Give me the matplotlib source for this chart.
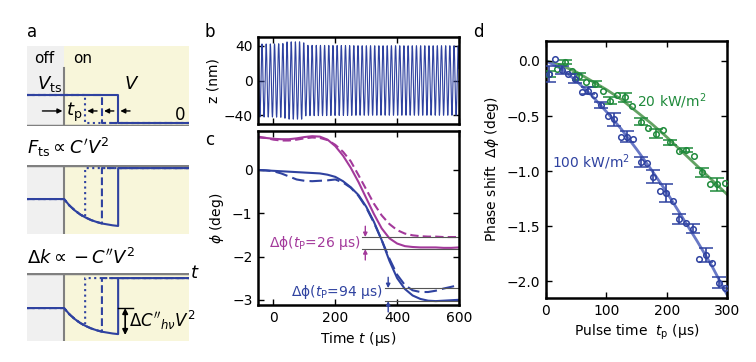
import matplotlib
matplotlib.use('Agg')
import numpy as np
import matplotlib.pyplot as plt

plt.rcParams['font.family'] = ['DejaVu Sans']
plt.rcParams['mathtext.fontset'] = 'dejavusans'
plt.rcParams['font.size'] = 10

BLUE = '#2f42a0'
MAGENTA = '#a3399b'
GREEN = '#1f8a3b'
BLUE_FIT = '#6878c6'
GREEN_FIT = '#63a263'
YELLOW = '#f8f6da'
LIGHTGRAY = '#f0f0f0'
GRAY = '#808080'

# panel a: schematic, times in units of the longest pulse
pulse_ends = [0.39, 0.70, 1.0]
pulse_styles = [':', '--', '-']
drop_t = [0.0, 0.1, 0.2, 0.3, 0.39, 0.5, 0.6, 0.7, 0.8, 0.9, 1.0]
drop_val = [0.0, 0.21, 0.37, 0.50, 0.59, 0.68, 0.74, 0.79, 0.82, 0.85, 0.87]

# panel b: oscillation envelope (nm) and period (us)
osc_period = 13.5
env_t = [-50, 0, 30, 45, 95, 105, 300, 600]
env_amp = [42.0, 42.0, 42.5, 44.5, 44.5, 40.5, 40.0, 40.0]

# panel c: phase traces (deg)
t_c = list(range(-50, 601, 25))
phi_mag_solid = [0.75, 0.74, 0.72, 0.71, 0.71, 0.73, 0.76, 0.78, 0.77, 0.70, 0.55, 0.33,
                 0.05, -0.28, -0.65, -1.02, -1.35, -1.58, -1.70, -1.76, -1.78, -1.79,
                 -1.79, -1.79, -1.80, -1.80, -1.79]
phi_mag_dash = [0.77, 0.74, 0.70, 0.68, 0.68, 0.70, 0.73, 0.75, 0.74, 0.69, 0.58, 0.42,
                0.20, -0.12, -0.45, -0.78, -1.05, -1.25, -1.39, -1.47, -1.51, -1.53,
                -1.54, -1.54, -1.55, -1.55, -1.55]
phi_blue_solid = [0.00, -0.01, -0.02, -0.03, -0.04, -0.05, -0.06, -0.07, -0.08, -0.11,
                  -0.16, -0.26, -0.40, -0.58, -0.85, -1.20, -1.62, -2.10, -2.50, -2.75,
                  -2.90, -2.98, -3.02, -3.03, -3.02, -3.01, -3.00]
phi_blue_dash = [0.00, -0.01, -0.03, -0.08, -0.15, -0.22, -0.25, -0.26, -0.25, -0.24,
                 -0.22, -0.29, -0.41, -0.60, -0.87, -1.22, -1.62, -2.05, -2.42, -2.66,
                 -2.78, -2.82, -2.82, -2.79, -2.74, -2.70, -2.66]
levels_mag = [-1.55, -1.83]
levels_blue = [-2.73, -3.03]

# panel d: phase shift vs pulse time
green_bar_t = [5, 31, 55, 81, 106, 131, 157, 182, 206, 232, 258, 283]
green_bar_y = [-0.12, -0.01, -0.14, -0.21, -0.36, -0.33, -0.55, -0.66, -0.74, -0.81, -1.01, -1.12]
green_bar_err = [0.03, 0.02, 0.03, 0.03, 0.03, 0.04, 0.035, 0.04, 0.025, 0.02, 0.04, 0.06]
green_open_t = [19, 43, 67, 94, 118, 143, 169, 194, 220, 245, 271, 296]
green_open_y = [-0.07, -0.09, -0.19, -0.27, -0.31, -0.41, -0.61, -0.63, -0.82, -0.86, -1.12, -1.11]

blue_bar_t = [5, 26, 48, 69, 91, 113, 135, 157, 178, 199, 221, 243, 265, 286]
blue_bar_y = [-0.12, -0.08, -0.16, -0.27, -0.40, -0.53, -0.69, -0.92, -1.05, -1.20, -1.43,
              -1.52, -1.76, -2.01]
blue_bar_err = [0.07, 0.035, 0.045, 0.035, 0.03, 0.06, 0.05, 0.045, 0.06, 0.08, 0.045,
                0.045, 0.06, 0.05]
blue_open_t = [15, 37, 59, 80, 102, 124, 145, 167, 189, 210, 232, 253, 275, 297]
blue_open_y = [0.02, -0.12, -0.28, -0.31, -0.50, -0.69, -0.71, -0.93, -1.18, -1.27, -1.47,
               -1.80, -1.83, -2.06]

fit_t = [0, 25, 50, 75, 100, 125, 150, 175, 200, 225, 250, 275, 300]
green_fit = [0.0, -0.04, -0.10, -0.18, -0.26, -0.35, -0.46, -0.57, -0.69, -0.82, -0.95, -1.08, -1.21]
blue_fit = [0.0, -0.07, -0.18, -0.31, -0.46, -0.62, -0.80, -0.99, -1.19, -1.41, -1.63, -1.86, -2.12]


def frame_style(ax):
    for s in ax.spines.values():
        s.set_linewidth(1.8)
    ax.tick_params(direction='in', length=4, width=1, top=True, right=True, pad=4)


fig = plt.figure(figsize=(7.56, 3.62), dpi=100)
W, H = 756.0, 362.0


def rect(x0, y0, x1, y1):
    return [x0 / W, 1 - y1 / H, (x1 - x0) / W, (y1 - y0) / H]


XL = (-0.685, 2.31)


def schematic(r, ylim):
    ax = fig.add_axes(r)
    ax.set_xlim(*XL)
    ax.set_ylim(*ylim)
    ax.axvspan(XL[0], 0, color=LIGHTGRAY, lw=0)
    ax.axvspan(0, XL[1], color=YELLOW, lw=0)
    ax.axis('off')
    return ax


def arrow(ax, tip, tail, color='k', scale=7, style='-|>', lw=1, clip=True):
    ax.annotate('', xy=tip, xytext=tail, annotation_clip=clip,
                arrowprops=dict(arrowstyle=style, color=color, lw=lw,
                                mutation_scale=scale, shrinkA=0, shrinkB=0))


# --- a, top box: applied voltage
a1 = schematic(rect(27, 46, 189, 126), (-0.107, 2.75))
a1.plot([0, 0], [1.96, -0.107], color=GRAY, lw=1.5)
a1.axhline(-0.107, color=GRAY, lw=2.5)
for tp, ls in zip(pulse_ends, pulse_styles):
    a1.plot([XL[0], tp, tp, XL[1]], [1, 1, 0, 0], color=BLUE, lw=1.5, ls=ls)
a1.text(-0.37, 2.3, 'off', ha='center', va='center', fontsize=11)
a1.text(0.35, 2.3, 'on', ha='center', va='center', fontsize=11)
a1.text(-0.03, 1.4, r'$V_{\rm ts}$', ha='right', va='center', fontsize=13)
a1.text(1.1, 1.4, r'$V$', ha='left', va='center', fontsize=13)
a1.text(2.15, 0.3, '0', ha='center', va='center', fontsize=12)
arrow(a1, (-0.03, 0.43), (-0.4, 0.43))
a1.text(0.03, 0.38, r'$t_{\rm p}$', ha='left', va='center', fontsize=13)
for tp in pulse_ends:
    arrow(a1, (tp + 0.04, 0.43), (tp + 0.22, 0.43))
fig.text(27 / W, 1 - 32 / H, 'a', fontsize=12, va='center')


def force_box(ax):
    for tp, ls in zip(pulse_ends, pulse_styles):
        tt = [t for t in drop_t if t <= tp + 1e-9]
        vv = [-1 - drop_val[i] for i in range(len(tt))]
        x = [XL[0]] + tt + [tp, XL[1]]
        y = [-1] + vv + [0, 0]
        ax.plot(x, y, color=BLUE, lw=1.5, ls=ls)


# --- a, middle box: force
a2 = schematic(rect(27, 165, 189, 234), (-2.13, 0.1))
a2.plot([0, 0], [-2.13, 0.1], color=GRAY, lw=1.5)
a2.axhline(0.1, color=GRAY, lw=2.5)
force_box(a2)
a2.text(0.0, 1.08, r"$F_{\rm ts}\propto C'V^2$", transform=a2.transAxes,
        ha='left', va='bottom', fontsize=13)

# --- a, bottom box: frequency shift
a3 = schematic(rect(27, 273, 189, 341), (-2.1, 0.17))
a3.plot([0, 0], [-2.1, 0.17], color=GRAY, lw=1.5)
a3.axhline(0.17, color=GRAY, lw=2.5)
force_box(a3)
a3.text(0.0, 1.08, r"$\Delta k\propto -C''V^2$", transform=a3.transAxes,
        ha='left', va='bottom', fontsize=13)
a3.text(XL[1] + 0.02, 0.17, r'$t$', ha='left', va='center', fontsize=13, clip_on=False)
a3.plot([1.0, 1.27], [-1.0, -1.0], color='k', lw=1)
arrow(a3, (1.13, -1.0), (1.13, -1.9), style='<|-|>', lw=1.2, scale=8)
a3.text(1.2, -1.42, r"$\Delta C''_{h\nu}V^2$", ha='left', va='center', fontsize=12)

# --- b: oscillation
axb = fig.add_axes(rect(258, 37, 459, 124))
tb = np.linspace(-50, 600, 20000)
zb = np.interp(tb, env_t, env_amp) * np.sin(2 * np.pi * tb / osc_period)
axb.plot(tb, zb, color=BLUE, lw=0.8)
axb.set_xlim(-50, 600)
axb.set_ylim(-50, 50)
axb.set_xticks([0, 200, 400, 600])
axb.set_xticklabels([])
axb.set_yticks([-40, 0, 40])
axb.set_yticklabels(['\u221240', '0', '40'])
axb.set_ylabel('z (nm)', labelpad=2)
frame_style(axb)
fig.text(205 / W, 1 - 32 / H, 'b', fontsize=12, va='center')

# --- c: phase
axc = fig.add_axes(rect(258, 131, 459, 305))
axc.plot(t_c, phi_mag_dash, color=MAGENTA, lw=1.5, ls=(0, (4, 2)))
axc.plot(t_c, phi_mag_solid, color=MAGENTA, lw=1.5)
axc.plot(t_c, phi_blue_dash, color=BLUE, lw=1.5, ls=(0, (6, 2.5)))
axc.plot(t_c, phi_blue_solid, color=BLUE, lw=1.5)
for lv in levels_mag:
    axc.plot([286, 600], [lv, lv], color='#555555', lw=0.8)
for lv in levels_blue:
    axc.plot([362, 600], [lv, lv], color='#555555', lw=0.8)
arrow(axc, (297, levels_mag[0]), (297, levels_mag[0] + 0.25), color=MAGENTA, scale=6)
arrow(axc, (297, levels_mag[1]), (297, levels_mag[1] - 0.25), color=MAGENTA, scale=6)
arrow(axc, (371, levels_blue[0]), (371, levels_blue[0] + 0.25), color=BLUE, scale=6)
arrow(axc, (371, levels_blue[1]), (371, levels_blue[1] - 0.25), color=BLUE, scale=6,
      clip=False)
axc.text(282, -1.69, '\u0394\u03d5($t_{\\rm P}$=26 \u00b5s)', color=MAGENTA,
         ha='right', va='center', fontsize=10)
axc.text(354, -2.83, '\u0394\u03d5($t_{\\rm P}$=94 \u00b5s)', color=BLUE,
         ha='right', va='center', fontsize=10)
axc.set_xlim(-50, 600)
axc.set_ylim(-3.12, 0.9)
axc.set_xticks([0, 200, 400, 600])
axc.set_yticks([-3, -2, -1, 0])
axc.set_yticklabels(['\u22123', '\u22122', '\u22121', '0'])
axc.set_ylabel(r'$\phi$ (deg)', labelpad=4)
axc.set_xlabel(r'Time $t$ (µs)', labelpad=4)
frame_style(axc)
fig.text(205 / W, 1 - 140 / H, 'c', fontsize=12, va='center')

# --- d: phase shift vs pulse time
axd = fig.add_axes(rect(546, 41, 727, 298))
axd.plot(fit_t, green_fit, color=GREEN_FIT, lw=2, zorder=1)
axd.plot(fit_t, blue_fit, color=BLUE_FIT, lw=2, zorder=1)
for bt, by, be, ot, oy, c in [(green_bar_t, green_bar_y, green_bar_err, green_open_t, green_open_y, GREEN),
                              (blue_bar_t, blue_bar_y, blue_bar_err, blue_open_t, blue_open_y, BLUE)]:
    axd.errorbar(bt, by, yerr=be, fmt='o', ms=4, mfc='none', mec=c, mew=1.1, ecolor=c,
                 elinewidth=1.2, capsize=5, capthick=1.2, zorder=3)
    axd.plot(ot, oy, 'o', ms=4, mfc='none', mec=c, mew=1.1, zorder=3)
axd.text(209, -0.37, '20 kW/m$^2$', color=GREEN, ha='center', va='center', fontsize=10)
axd.text(75, -0.92, '100 kW/m$^2$', color=BLUE, ha='center', va='center', fontsize=10)
axd.set_xlim(0, 300)
axd.set_ylim(-2.15, 0.18)
axd.set_xticks([0, 100, 200, 300])
axd.set_yticks([-2.0, -1.5, -1.0, -0.5, 0.0])
axd.set_yticklabels(['\u22122.0', '\u22121.5', '\u22121.0', '\u22120.5', '0.0'])
axd.set_ylabel(r'Phase shift  $\Delta\phi$ (deg)', labelpad=4)
axd.set_xlabel(r'Pulse time  $t_{\rm p}$ (µs)', labelpad=4)
frame_style(axd)
fig.text(473 / W, 1 - 32 / H, 'd', fontsize=12, va='center')

fig.savefig('out.png', dpi=100)
